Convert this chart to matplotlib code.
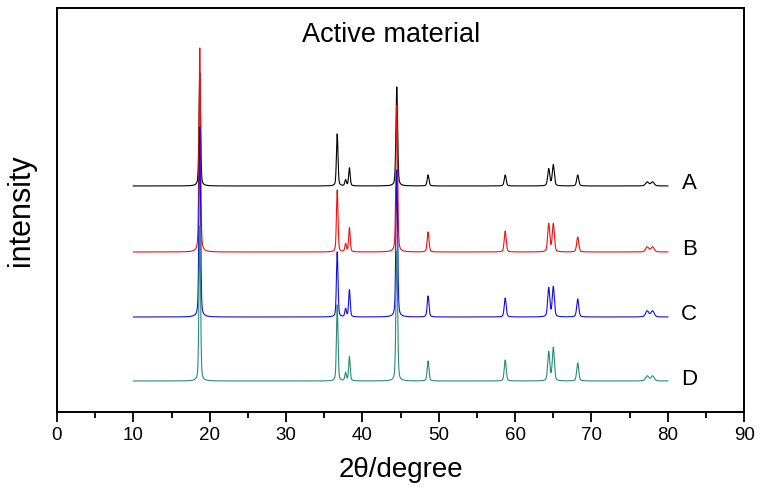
import numpy as np
import matplotlib.pyplot as plt
from matplotlib.ticker import MultipleLocator

plt.rcParams['font.family'] = ['Liberation Sans', 'DejaVu Sans']

# ---------------------------------------------------------------
# peak list (2theta positions, heights per sample)
peak_pos = [18.7, 36.7, 37.8, 38.3, 44.5, 48.6, 58.7, 64.4, 65.0, 68.2, 77.3, 78.0]
peak_hwhm = [0.12, 0.12, 0.12, 0.12, 0.13, 0.14, 0.15, 0.16, 0.16, 0.16, 0.25, 0.25]

heights_A = [113, 52, 6, 18, 99, 11, 11, 17, 21, 11, 4, 4]
heights_B = [204, 62, 8, 24, 147, 20, 21, 28, 28, 15, 5, 5]
heights_C = [190, 65, 8, 27, 147, 21, 19, 29, 30, 18, 6, 6]
heights_D = [155, 76, 8, 24, 130, 20, 21, 29, 33, 18, 5, 5]

labels = ['A', 'B', 'C', 'D']
offsets = [226, 160, 95, 31]
colors = ['black', '#ee1111', '#1010dd', '#2a8a78']
all_heights = [heights_A, heights_B, heights_C, heights_D]

two_theta = np.arange(10, 80.001, 0.02)


def pattern(heights):
    # pseudo-voigt peaks, mostly gaussian
    y = np.zeros_like(two_theta)
    for pos, w, h in zip(peak_pos, peak_hwhm, heights):
        d = (two_theta - pos) / w
        y += h * (0.35 / (1 + d ** 2) + 0.65 * np.exp(-np.log(2) * d ** 2))
    return y


fig = plt.figure(figsize=(7.68, 4.97), dpi=100)
ax = fig.add_axes([0.0742, 0.171, 0.8948, 0.813])

for lab, off, col, hts in zip(labels, offsets, colors, all_heights):
    ax.plot(two_theta, pattern(hts) + off, color=col, lw=0.8)
    ax.text(82.8, off + 2, lab, fontsize=16, ha='center', va='center')

ax.text(43.8, 377, 'Active material', fontsize=19.5, ha='center', va='center')

ax.set_xlim(0, 90)
ax.set_ylim(0, 404)
ax.set_yticks([])
ax.xaxis.set_major_locator(MultipleLocator(10))
ax.xaxis.set_minor_locator(MultipleLocator(5))
ax.tick_params(axis='x', which='major', direction='out', length=7, width=1.3, labelsize=13.5)
ax.tick_params(axis='x', which='minor', direction='out', length=4, width=1.3)
for sp in ax.spines.values():
    sp.set_linewidth(1.4)

ax.set_xlabel('2θ/degree', fontsize=20, labelpad=10)
ax.set_ylabel('intensity', fontsize=22, labelpad=15)

fig.savefig('out.png', dpi=100)
